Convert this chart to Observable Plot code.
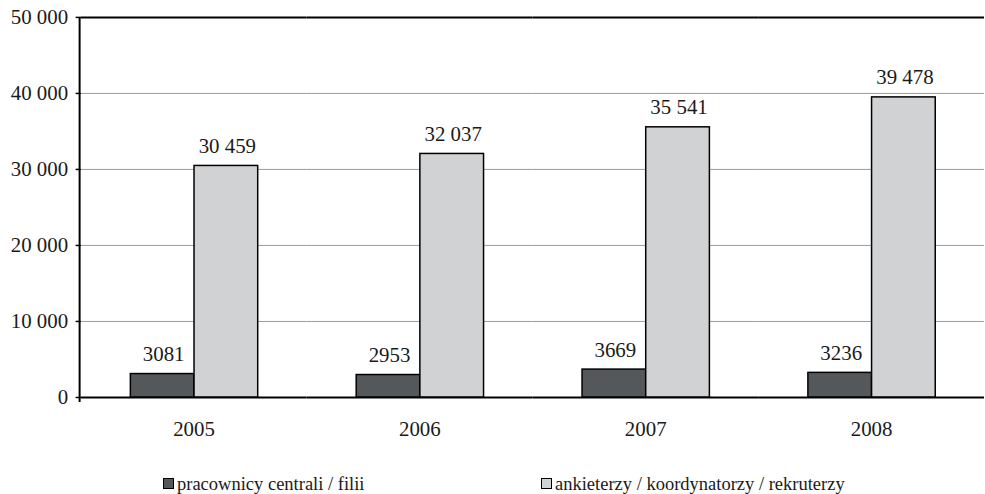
<!DOCTYPE html>
<html>
<head>
<meta charset="utf-8">
<script src="https://cdn.jsdelivr.net/npm/d3@7"></script>
<script src="https://cdn.jsdelivr.net/npm/@observablehq/plot@0.6"></script>
<style>
  html, body { margin: 0; padding: 0; background: #fff; overflow: hidden; }
  #chart { width: 985px; height: 455px; overflow: hidden; }
  #chart svg { display: block; }
  #chart svg, #chart svg text { font-family: "Liberation Serif", "Times New Roman", "DejaVu Serif", serif !important; }
  #legend { position: relative; width: 985px; height: 39px;
            font-family: "Liberation Serif", "Times New Roman", "DejaVu Serif", serif; font-size: 18.5px; color: #1a1a1a; }
  #legend .sw { position: absolute; width: 9px; height: 9px; border: 1px solid #000; }
  #legend .lb { position: absolute; line-height: 18.5px; white-space: nowrap; }
</style>
</head>
<body>
<div id="chart"></div>
<div id="legend"></div>
<script>
// Zatrudnienie wg kategorii pracowników, 2005–2008
const years = ["2005", "2006", "2007", "2008"];
const seriesNames = ["pracownicy centrali / filii", "ankieterzy / koordynatorzy / rekruterzy"];
const staff = [3081, 2953, 3669, 3236];
const interviewers = [30459, 32037, 35541, 39478];
const yTicks = [0, 10000, 20000, 30000, 40000, 50000];
const seriesColors = ["#55585b", "#d1d2d4"];

const rows = years.flatMap((year, i) => [
  {year, series: seriesNames[0], value: staff[i]},
  {year, series: seriesNames[1], value: interviewers[i]}
]);

// Polish-style grouping: thousands separated by a space only from 10 000 up
const fmt = v => v >= 10000 ? d3.format(",")(v).replace(/,/g, " ") : String(v);

const font = "'Liberation Serif', 'Times New Roman', 'DejaVu Serif', serif";

const plot = Plot.plot({
  width: 990,
  height: 455,
  marginLeft: 80,
  marginRight: 0,
  marginTop: 17,
  marginBottom: 56,
  style: {fontFamily: font, fontSize: "21px", color: "#1a1a1a", background: "white"},
  fx: {domain: years, padding: 0, label: null},
  x: {domain: seriesNames, paddingInner: 0, paddingOuter: 0.75, axis: null},
  y: {domain: [0, 50000], label: null},
  color: {domain: seriesNames, range: seriesColors},
  marks: [
    Plot.gridY(yTicks.filter(t => t > 0 && t < 50000), {stroke: "#9a9a9a", strokeOpacity: 1, strokeWidth: 1}),
    Plot.ruleY([0, 50000], {stroke: "#000", strokeWidth: 2}),
    Plot.barY(rows, {fx: "year", x: "series", y: "value", fill: "series", stroke: "#000", strokeWidth: 1.5}),
    Plot.text(rows, {
      fx: "year", x: "series", y: "value",
      text: d => fmt(d.value),
      lineAnchor: "bottom", dy: -13, dx: 1, fontSize: 21, fontFamily: font, fill: "#1a1a1a"
    }),
    Plot.axisY({ticks: yTicks, tickFormat: fmt, tickSize: 5, tickPadding: 8, label: null,
                fontSize: 21, fontFamily: font, stroke: "#000", strokeWidth: 1.5}),
    Plot.axisFx({anchor: "bottom", tickSize: 0, tickPadding: 24, label: null, fontSize: 21, fontFamily: font})
  ]
});

// left axis line, running slightly past the baseline like a category tick
const yScale = plot.scale("y");
d3.select(plot).append("line")
  .attr("x1", 80).attr("x2", 80)
  .attr("y1", yScale.apply(0) + 5)
  .attr("y2", yScale.apply(50000))
  .attr("stroke", "#000")
  .attr("stroke-width", 2);

document.getElementById("chart").appendChild(plot);

// legend below the chart
const legend = d3.select("#legend");
const swatchLeft = [163, 541];
seriesNames.forEach((name, i) => {
  legend.append("span").attr("class", "sw")
    .style("left", swatchLeft[i] + "px").style("top", "23px")
    .style("background", seriesColors[i]);
  legend.append("span").attr("class", "lb")
    .style("left", (swatchLeft[i] + 14) + "px").style("top", "19.5px")
    .text(name);
});
</script>
</body>
</html>
